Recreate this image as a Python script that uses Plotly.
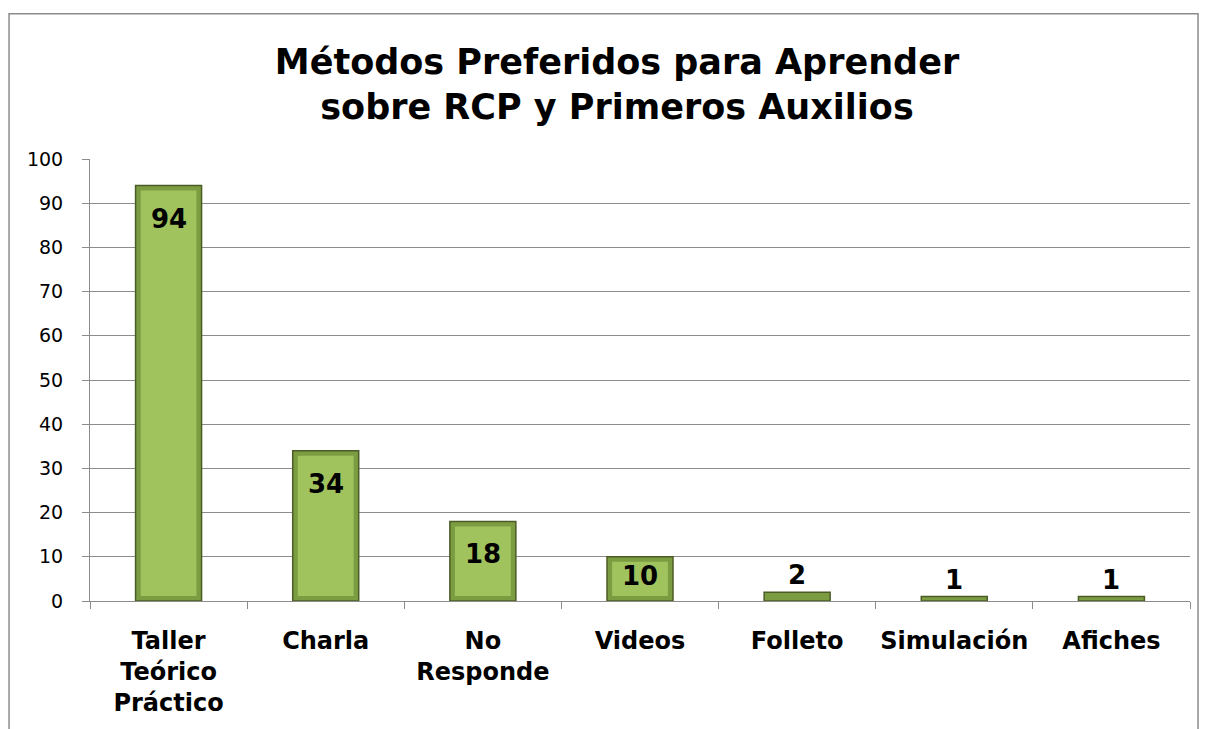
import plotly.graph_objects as go

categories = ["Taller<br>Teórico<br>Práctico", "Charla", "No<br>Responde", "Videos", "Folleto", "Simulación", "Afiches"]
values = [94, 34, 18, 10, 2, 1, 1]
title_text = "Métodos Preferidos para Aprender<br>sobre RCP y Primeros Auxilios"

FONT = "DejaVu Sans"
Y_MAX = 100
PLOT_H = 444  # plot-area height in px
px_per_unit = PLOT_H / Y_MAX
bevel_units = 5 / px_per_unit

inner_vals = [max(v - 2 * bevel_units, 0) for v in values]

fig = go.Figure()
# outer (darker edge) bar
fig.add_trace(go.Bar(
    x=categories, y=values, width=0.42,
    marker=dict(color="#7C9C42", line=dict(color="#4B5C27", width=1.5)),
    hoverinfo="skip",
))
# inner lighter face (bevel effect)
fig.add_trace(go.Bar(
    x=categories, y=inner_vals, base=[bevel_units * (1 if v > 0 else 0) for v in inner_vals],
    width=0.355,
    marker=dict(color="#A0C35E", line=dict(width=0)),
    hoverinfo="skip",
))

annotations = []
for c, v in zip(categories, values):
    bar_px = v * px_per_unit
    if bar_px > 60:
        shift = -33
    elif bar_px > 30:
        shift = -(bar_px / 2 - 3)
    else:
        shift = 17
    annotations.append(dict(
        x=c, y=v, xref="x", yref="y", text=str(v), showarrow=False,
        yanchor="middle", xanchor="center", yshift=shift,
        font=dict(family=FONT, size=26, color="black", weight="bold"),
    ))

fig.update_layout(
    width=1200, height=721,
    paper_bgcolor="white", plot_bgcolor="white",
    margin=dict(l=82, r=18, t=151, b=126),
    showlegend=False,
    barmode="overlay",
    annotations=annotations,
    title=dict(
        text=title_text,
        x=0.5075, xanchor="center",
        y=0.9085, yanchor="middle",
        font=dict(family=FONT, size=35, color="black", weight="bold"),
    ),
    xaxis=dict(
        type="category",
        tickson="boundaries",
        ticks="outside", ticklen=7, tickcolor="#8c8c8c",
        showline=True, linecolor="#8c8c8c", linewidth=1,
        showgrid=False,
        tickfont=dict(family=FONT, size=24, color="black", weight="bold"),
        ticklabelstandoff=18,
    ),
    yaxis=dict(
        range=[0, Y_MAX], dtick=10,
        ticks="outside", ticklen=7, tickcolor="#8c8c8c",
        showline=True, linecolor="#8c8c8c", linewidth=1,
        showgrid=True, gridcolor="#8c8c8c", gridwidth=1,
        zeroline=False,
        tickfont=dict(family=FONT, size=19, color="black"),
        ticklabelstandoff=15,
    ),
    shapes=[dict(
        type="rect", xref="paper", yref="paper",
        x0=-0.0736, x1=1.0073, y0=-0.4, y1=1.3288,
        line=dict(color="#8c8c8c", width=1.5), fillcolor="rgba(0,0,0,0)",
        layer="below",
    )],
)

fig.write_html("out.html")
